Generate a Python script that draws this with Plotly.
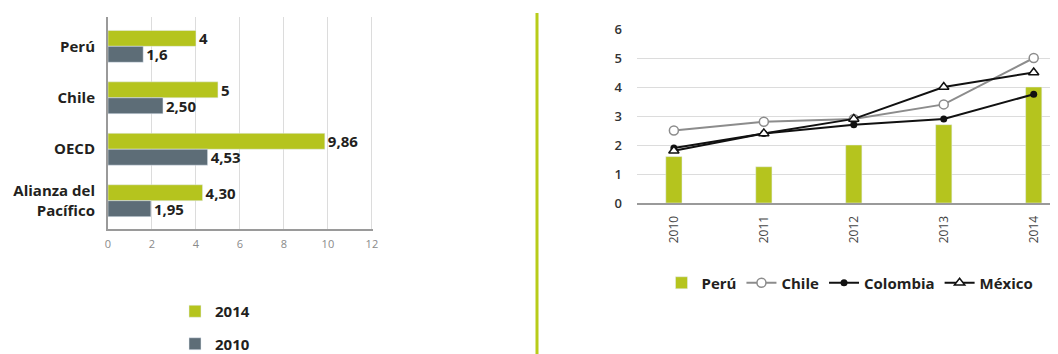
import plotly.graph_objects as go

# ---------------- Left chart data ----------------
countries = ["Perú", "Chile", "OECD", "Alianza del<br>Pacífico"]
vals_2014 = [4, 5, 9.86, 4.30]
vals_2010 = [1.6, 2.50, 4.53, 1.95]
labels_2014 = ["4", "5", "9,86", "4,30"]
labels_2010 = ["1,6", "2,50", "4,53", "1,95"]
left_xticks = [0, 2, 4, 6, 8, 10, 12]

# ---------------- Right chart data ----------------
years = [2010, 2011, 2012, 2013, 2014]
year_labels = ["2010", "2011", "2012", "2013", "2014"]
peru = [1.6, 1.25, 2.0, 2.7, 4.0]
chile = [2.5, 2.8, 2.9, 3.4, 5.0]
colombia = [1.9, 2.4, 2.7, 2.9, 3.75]
mexico = [1.8, 2.4, 2.9, 4.0, 4.5]
right_yticks = [0, 1, 2, 3, 4, 5, 6]

GREEN = "#b5c41e"
SLATE = "#5d6d77"
FONT = "Open Sans"
PAGE_OFF = 8           # browser default body margin
W, H = 1058 - PAGE_OFF, 354 - PAGE_OFF

fig = go.Figure()

# Left: horizontal grouped bars
fig.add_trace(go.Bar(
    y=countries, x=vals_2014, orientation="h", name="2014",
    marker=dict(color=GREEN), width=0.31, offset=-0.31,
    text=labels_2014, textposition="outside", cliponaxis=False, constraintext="none",
    textfont=dict(family=FONT, size=15, color="#231f20", weight="bold"),
    xaxis="x", yaxis="y", legend="legend2", legendgroup="a",
))
fig.add_trace(go.Bar(
    y=countries, x=vals_2010, orientation="h", name="2010",
    marker=dict(color=SLATE), width=0.31, offset=0,
    text=labels_2010, textposition="outside", cliponaxis=False, constraintext="none",
    textfont=dict(family=FONT, size=15, color="#231f20", weight="bold"),
    xaxis="x", yaxis="y", legend="legend2", legendgroup="b",
))

# Right: bars + lines
fig.add_trace(go.Bar(
    x=years, y=peru, name="Perú", marker=dict(color=GREEN), width=0.18,
    xaxis="x2", yaxis="y2", legend="legend",
))
fig.add_trace(go.Scatter(
    x=years, y=chile, name="Chile", mode="lines+markers",
    line=dict(color="#8c8c8c", width=2),
    marker=dict(symbol="circle", size=9, color="white", line=dict(color="#8c8c8c", width=1.5)),
    xaxis="x2", yaxis="y2", legend="legend", cliponaxis=False,
))
fig.add_trace(go.Scatter(
    x=years, y=colombia, name="Colombia", mode="lines+markers",
    line=dict(color="#111111", width=2),
    marker=dict(symbol="circle", size=7, color="#111111"),
    xaxis="x2", yaxis="y2", legend="legend", cliponaxis=False,
))
fig.add_trace(go.Scatter(
    x=years, y=mexico, name="México", mode="lines+markers",
    line=dict(color="#111111", width=2),
    marker=dict(symbol="triangle-up", size=9, color="white", line=dict(color="#111111", width=1.5)),
    xaxis="x2", yaxis="y2", legend="legend", cliponaxis=False,
))

def px(x):
    return (x - PAGE_OFF) / W

def py(y):
    return 1 - (y - PAGE_OFF) / H

fig.update_layout(
    width=W, height=H,
    margin=dict(l=0, r=0, t=0, b=0, autoexpand=False),
    paper_bgcolor="white", plot_bgcolor="white",
    font=dict(family=FONT, color="#231f20"),
    barmode="overlay",
    showlegend=True,
    xaxis=dict(
        domain=[px(108), px(373)], range=[0, 12.05], tickvals=left_xticks,
        showgrid=True, gridcolor="#dcdcdc", gridwidth=1,
        showline=True, linecolor="#9a9a9a", linewidth=2,
        zeroline=False, ticks="", automargin=False,
        tickfont=dict(family=FONT, size=11, color="#8a8a8a"),
        ticklabelstandoff=4, anchor="y",
    ),
    yaxis=dict(
        domain=[py(229), py(17)], type="category", range=[3.55, -0.57],
        showline=True, linecolor="#9a9a9a", linewidth=2,
        showgrid=False, ticks="", automargin=False,
        tickfont=dict(family=FONT, size=15, color="#231f20", weight="bold"),
        ticklabelstandoff=8, anchor="x",
    ),
    xaxis2=dict(
        domain=[px(637), 1.0], range=[2009.59, 2014.27],
        tickvals=years, ticktext=year_labels, tickangle=-90,
        showgrid=False, showline=True, linecolor="#9a9a9a", linewidth=2,
        zeroline=False, ticks="", automargin=False,
        tickfont=dict(family=FONT, size=12, color="#444444"),
        ticklabelstandoff=6, anchor="y2",
    ),
    yaxis2=dict(
        domain=[py(203), py(29)], range=[0, 6], tickvals=right_yticks,
        showgrid=True, gridcolor="#dcdcdc", gridwidth=1,
        zeroline=False, showline=False, ticks="", automargin=False,
        tickfont=dict(family=FONT, size=13, color="#333333", weight=600),
        ticklabelstandoff=14, anchor="x2",
    ),
    legend=dict(
        orientation="h", x=px(850), xanchor="center", y=py(283), yanchor="middle",
        font=dict(family=FONT, size=15, color="#231f20", weight="bold"),
        bgcolor="rgba(0,0,0,0)",
    ),
    legend2=dict(
        orientation="v", x=px(175), xanchor="left", y=py(295), yanchor="top",
        font=dict(family=FONT, size=15, color="#231f20", weight="bold"),
        bgcolor="rgba(0,0,0,0)", tracegroupgap=10, traceorder="grouped",
    ),
    shapes=[dict(
        type="line", xref="paper", yref="paper",
        x0=px(537), x1=px(537), y0=-0.1, y1=py(13),
        line=dict(color="#b8cc1a", width=3),
    )],
)

fig.write_html("out.html")
